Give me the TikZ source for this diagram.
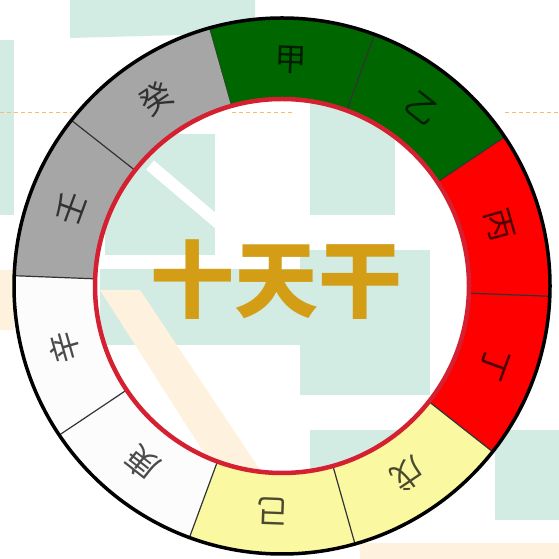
\documentclass[tikz,border=0pt]{standalone}
\usepackage{fontspec}
\newfontfamily\cjk{Noto Sans CJK SC}
\definecolor{ggreen}{RGB}{0,102,0}
\definecolor{rred}{RGB}{255,0,0}
\definecolor{yyellow}{RGB}{250,248,160}
\definecolor{wwhite}{RGB}{252,252,252}
\definecolor{ggray}{RGB}{166,166,166}
\definecolor{ringred}{RGB}{212,32,48}
\definecolor{gold}{RGB}{211,158,22}
\definecolor{tealbg}{RGB}{210,236,228}
\definecolor{peach}{RGB}{254,242,222}
\definecolor{dashor}{RGB}{245,190,100}
\begin{document}
\begin{tikzpicture}[x=1pt,y=1pt,
  stemtext/.style={font=\cjk\fontsize{32}{32}\selectfont, text=black, text opacity=0.7, inner sep=0pt},
  titletext/.style={font=\cjk\bfseries\fontsize{84}{84}\selectfont, text=gold, inner sep=0pt},
  divider/.style={line width=1.2pt, black!80},
  bgteal/.style={fill=tealbg},
  bgpeach/.style={fill=peach},
  dashline/.style={dashor, line width=0.9pt, dash pattern=on 4pt off 3pt}]
\useasboundingbox (0,0) rectangle (559,559);
\fill[white] (0,0) rectangle (559,559);
% background patches
\fill[bgteal] (70,559) -- (255,559) -- (255,526) -- (70,521) -- cycle;
\fill[bgteal] (0,344) rectangle (14,519);
\fill[bgpeach] (0,229) rectangle (14,289);
\fill[bgteal] (495,39) rectangle (559,129);
\fill[bgpeach] (360,0) rectangle (559,16);
\begin{scope}
  \clip (282,273) circle[radius=187];
  \fill[bgteal] (105,304) rectangle (215,425);
  \fill[bgteal] (310,344) rectangle (395,462);
  \fill[bgteal] (300,164) rectangle (430,309);
  \fill[bgteal] (100,214) rectangle (300,290);
  \fill[bgpeach] (100,269) -- (140,269) -- (260,89) -- (215,89) -- cycle;
  \fill[bgteal] (310,89) rectangle (420,129);
  \draw[white, line width=12pt] (150,394) -- (250,309);
\end{scope}
\draw[dashline] (0,447) -- (72,447);
\draw[dashline] (232,447) -- (292,447);
\draw[dashline] (505,447) -- (559,447);
% ring
\begin{scope}[shift={(282,273)}]
  \foreach \k/\col in {0/ggreen,1/ggreen,2/rred,3/rred,4/yyellow,5/yyellow,6/wwhite,7/wwhite,8/ggray,9/ggray}{
    \pgfmathsetmacro\a{105.8-36*\k}
    \pgfmathsetmacro\b{\a-36}
    \fill[\col] (\a:268) arc[start angle=\a, end angle=\b, radius=268] -- (\b:187) arc[start angle=\b, end angle=\a, radius=187] -- cycle;
    \draw[divider] (\a:187) -- (\a:268);
  }
  \draw[line width=3.5pt, black] (0,0) circle[radius=268];
  \draw[ringred, line width=4.5pt] (0,0) circle[radius=187];
  \foreach \k/\t in {0/甲,1/乙,2/丙,3/丁,4/戊,5/己,6/庚,7/辛,8/壬,9/癸}{
    \pgfmathsetmacro\m{87.8-36*\k}
    \node[stemtext, rotate=\m-90] (s\k) at (\m:226) {\t};
  }
\end{scope}
\node[titletext] (title) at (276.5,279.5) {十天干};
\end{tikzpicture}
\end{document}
